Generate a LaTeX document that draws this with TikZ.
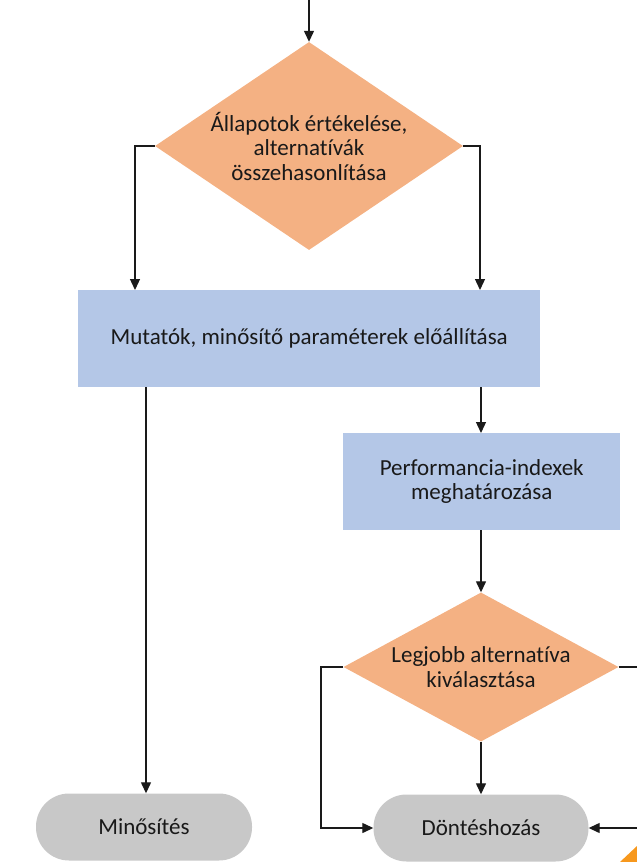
\documentclass[tikz,border=0pt]{standalone}
\usepackage{fontspec}
\setmainfont{Carlito}[Ligatures=NoCommon]
\usetikzlibrary{arrows.meta,shapes.geometric}
\definecolor{decfill}{HTML}{F4B183}
\definecolor{procfill}{HTML}{B4C7E7}
\definecolor{termfill}{HTML}{C8C8C8}
\definecolor{cornerorange}{HTML}{F7981D}
\definecolor{linegray}{HTML}{1A1A1A}
\tikzset{
  every node/.style={font=\fontsize{23}{24.5}\selectfont, text=black!90, align=center, inner sep=0pt},
  decision/.style={diamond, fill=decfill, draw=none},
  process/.style={rectangle, fill=procfill, draw=none, anchor=north west},
  terminal/.style={rectangle, fill=termfill, draw=none, rounded corners=33pt},
  flow/.style={draw=linegray, line width=1.3pt, -{Triangle[length=11pt,width=10pt]}},
}
\begin{document}
\begin{tikzpicture}[x=1pt,y=-1pt]
  \useasboundingbox (0,0) rectangle (637,862);
  \begin{scope}
    \clip (0,0) rectangle (637,862);

    % shapes
    \node[decision, aspect=1.6, minimum width=308pt, minimum height=208pt] (d1) at (309,146)
      {Állapotok értékelése,\\ alternatívák\\ összehasonlítása};
    \node[process, minimum width=462pt, minimum height=97pt] (b1) at (78,290)
      {Mutatók, minősítő paraméterek előállítása};
    \node[process, minimum width=277pt, minimum height=97pt] (b2) at (343,433)
      {Performancia-indexek\\ meghatározása};
    \node[decision, aspect=1.85, minimum width=275pt, minimum height=149pt] (d2) at (481,667)
      {Legjobb alternatíva\\ kiválasztása};
    \node[terminal, minimum width=216pt, minimum height=67pt] (t1) at (144,827)
      {Minősítés};
    \node[terminal, minimum width=215pt, minimum height=67pt] (t2) at (481,828)
      {Döntéshozás};

    % bend points
    \coordinate (top) at (309,0);
    \coordinate (l1) at (135,146);
    \coordinate (r1) at (480,146);
    \coordinate (l2) at (321,667);
    \coordinate (r2) at (650,667);
    \coordinate (m1) at (146,0);

    % connectors
    \draw[flow] (top) -- (d1.north);
    \draw[flow] (d1.west) -- (l1) -- (l1 |- b1.north);
    \draw[flow] (d1.east) -- (r1) -- (r1 |- b1.north);
    \draw[flow] (m1 |- b1.south) -- (m1 |- t1.north);
    \draw[flow] (d2.north |- b1.south) -- (d2.north |- b2.north);
    \draw[flow] (d2.north |- b2.south) -- (d2.north);
    \draw[flow] (d2.south) -- (t2.north);
    \draw[flow] (d2.west) -- (l2) -- (l2 |- t2.west) -- (t2.west);
    \draw[flow] (d2.east) -- (r2) -- (r2 |- t2.east) -- (t2.east);

    % corner accent
    \fill[cornerorange] (620,862) -- (637,846) -- (637,862) -- cycle;
  \end{scope}
\end{tikzpicture}
\end{document}
